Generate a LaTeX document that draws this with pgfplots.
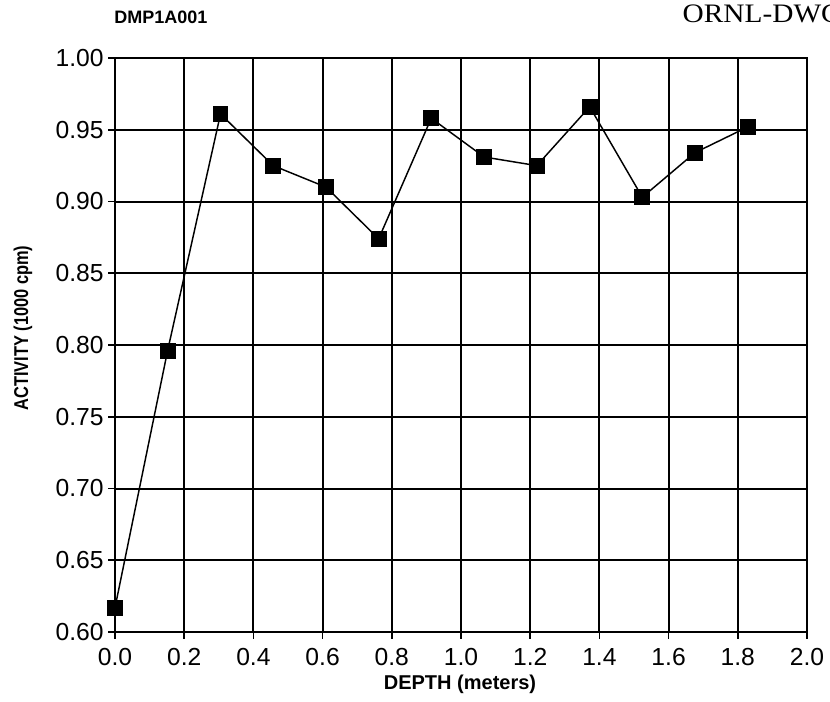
\documentclass[border=0pt]{standalone}
\usepackage{fontspec}
\setmainfont{Liberation Sans}
\newfontfamily\serifdwg[FakeStretch=1.1]{Liberation Serif}
\newfontfamily\narrowbold[FakeStretch=0.82]{Liberation Sans}
\usepackage{pgfplots}
\pgfplotsset{compat=1.18}

% Activity measured down the core, at 0.152 m (6 in) steps
\pgfplotstableread{
depth   activity
0.000   0.617
0.152   0.796
0.305   0.961
0.457   0.925
0.610   0.910
0.762   0.874
0.914   0.958
1.067   0.931
1.219   0.925
1.372   0.966
1.524   0.903
1.676   0.934
1.829   0.952
}\activitydata

\begin{document}
\begin{tikzpicture}[x=0.75pt,y=0.75pt]
% page frame (px from the axis origin); the drawing number runs off the right edge
\useasboundingbox (-115,-69) rectangle (715,632);
\begin{axis}[
  at={(0,0)}, anchor=origin,
  scale only axis,
  width=519pt, height=430.5pt,
  xmin=0, xmax=2.0, ymin=0.60, ymax=1.00,
  xtick distance=0.2, ytick distance=0.05,
  grid=major,
  major grid style={black, line width=1.5pt},
  axis line style={black, line width=1.5pt},
  tick style={black, line width=1.2pt},
  tick align=outside,
  major tick length=5pt,
  xtick pos=left, ytick pos=left,
  /pgf/number format/assume math mode=true,
  tick label style={font=\fontsize{18.5}{20}\selectfont},
  xticklabel style={yshift=-4pt, /pgf/number format/.cd, fixed, fixed zerofill, precision=1},
  yticklabel style={/pgf/number format/.cd, fixed, fixed zerofill, precision=2},
  clip=false,
]
\addplot[black, line width=1.1pt, mark=square*, mark size=5.4pt,
  mark options={solid, fill=black}]
  table[x=depth, y=activity] {\activitydata};
\end{axis}

% header and axis titles
\node[font=\bfseries\fontsize{13.5}{15}\selectfont] at (46,615) {DMP1A001};
\node[anchor=base west, font=\serifdwg\fontsize{20}{22}\selectfont] at (563,609) {ORNL-DWG};
\node[font=\bfseries\fontsize{15}{17}\selectfont] at (345,-52) {DEPTH (meters)};
\node[rotate=90, font=\narrowbold\bfseries\fontsize{15}{17}\selectfont] at (-92,304) {ACTIVITY (1000 cpm)};
\end{tikzpicture}
\end{document}
